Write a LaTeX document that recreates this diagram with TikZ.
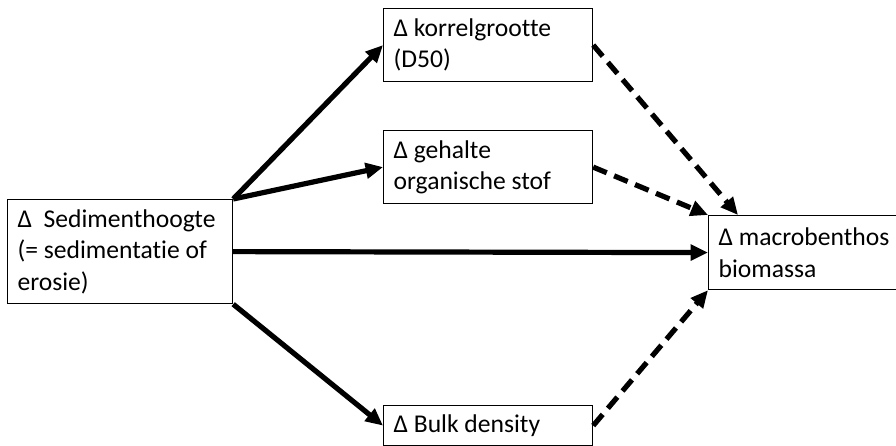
\documentclass[tikz,border=0pt]{standalone}
\usepackage{fontspec}
\setmainfont{Carlito}[Ligatures=NoCommon]
\usetikzlibrary{arrows.meta,positioning}
\hyphenpenalty=10000

\begin{document}
\begin{tikzpicture}[x=0.75pt,y=-0.75pt,
  vak/.style={draw,line width=0.9pt,anchor=north west,align=flush left,
    inner xsep=7.5pt,inner ysep=0pt,
    font=\fontsize{19.2}{23.6}\selectfont},
  pijl/.style={line width=3.9pt,-{Triangle[length=13pt,width=11.5pt]}},
  stippel/.style={pijl,dash pattern=on 11pt off 6pt}]

\useasboundingbox (0,0) rectangle (896,446);
\clip (0,0) rectangle (896,446);

% oorzaak links
\node [vak,text width=153.75pt,minimum height=78pt] (sed) at (7,199)
  {Δ\ \ Sedimenthoogte\\(= sedimentatie of\\erosie)};

% tussenliggende variabelen
\node [vak,text width=141.75pt,minimum height=54.75pt] (korrel) at (383,8)
  {Δ korrelgrootte\\(D50)};
\node [vak,text width=141.75pt,minimum height=54.75pt] (organisch) at (383,130)
  {Δ gehalte\\organische stof};
\node [vak,text width=141.75pt,minimum height=30pt] (bulk) at (383,405)
  {Δ Bulk density};

% gevolg rechts
\node [vak,text width=180pt,minimum height=55.5pt] (macro) at (708,215)
  {Δ macrobenthos\\biomassa};

\draw [pijl] (sed.north east) -- (korrel.west);
\draw [pijl] (sed.north east) -- (organisch.west);
\draw [pijl] (sed.east) -- (macro.west);
\draw [pijl] (sed.south east) -- (bulk.west);

\draw [stippel] (korrel.east) -- ([xshift=22.5pt]macro.north west);
\draw [stippel] (organisch.east) -- (macro.north west);
\draw [stippel] (bulk.east) -- (macro.south west);

\end{tikzpicture}
\end{document}
